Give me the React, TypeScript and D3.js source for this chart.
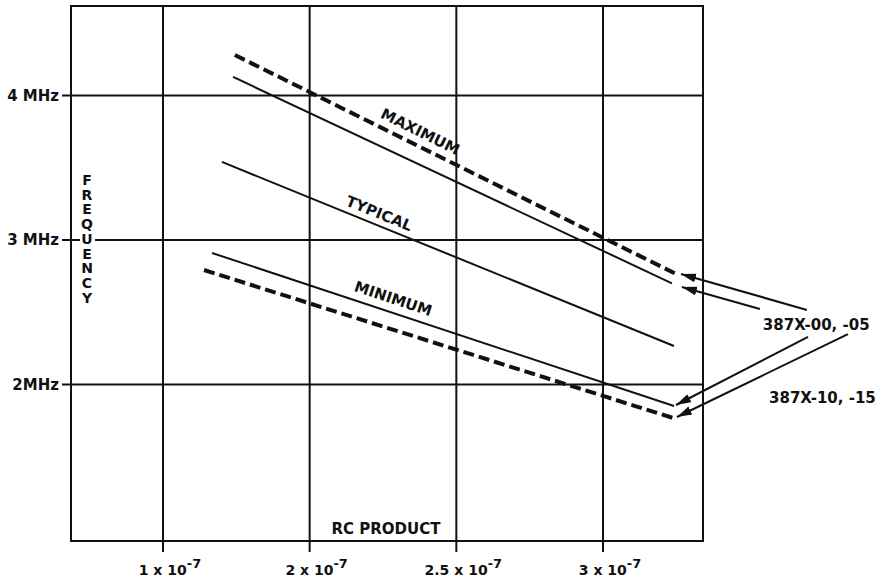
import * as d3 from "d3";

// x axis in units of 1e-7 (labels as printed on the original sheet)
const xTickValues = [1.5, 2, 2.5, 3];
const xTickLabels = ["1 x 10", "2 x 10", "2.5 x 10", "3 x 10"];
const yTickValues = [4, 3, 2];
const yTickLabels = ["4 MHz", "3 MHz", "2MHz"];

const seriesNames = ["maxDashed", "maxSolid", "typical", "minSolid", "minDashed"];
const seriesDashed = [true, false, false, false, true];
// [rc, MHz] endpoints
const seriesStart = [[1.745, 4.28], [1.739, 4.128], [1.701, 3.54], [1.667, 2.91], [1.64, 2.792]];
const seriesEnd = [[3.249, 2.765], [3.235, 2.7], [3.242, 2.266], [3.242, 1.851], [3.239, 1.768]];

const curveLabels = ["MAXIMUM", "TYPICAL", "MINIMUM"];
const curveLabelAt = [[2.376, 3.745], [2.236, 3.18], [2.284, 2.59]];
const curveLabelLine = [0, 2, 3];

const arrowFrom = [[3.695, 2.516], [3.535, 2.522], [3.699, 2.329], [3.835, 2.349]];
const arrowTo = [[3.266, 2.765], [3.269, 2.675], [3.249, 1.858], [3.252, 1.775]];
const partLabels = ["387X-00, -05", "387X-10, -15"];
const partLabelAt = [[3.545, 2.377], [3.566, 1.872]];

const W = 882;
const H = 581;
const left = 71, right = 703, top = 6, bottom = 541;
const FONT = "'DejaVu Sans', 'Liberation Sans', Arial, sans-serif";

export default function App() {
  const x = d3.scaleLinear().domain([1.1864, 3.3409]).range([left, right]);
  const y = d3.scaleLinear().domain([0.917, 4.619]).range([bottom, top]);
  const line = d3.line<number[]>().x((d) => x(d[0])).y((d) => y(d[1]));

  const angleOf = (i: number) => {
    const a = seriesStart[i], b = seriesEnd[i];
    return (Math.atan2(y(b[1]) - y(a[1]), x(b[0]) - x(a[0])) * 180) / Math.PI;
  };

  return (
    <svg
      width={W}
      height={H}
      style={{ position: "absolute", left: 0, top: 0, background: "#fff" }}
      fontFamily={FONT}
      fontWeight="bold"
    >
      <defs>
        <marker id="ah" markerUnits="userSpaceOnUse" markerWidth="16" markerHeight="10"
          refX="15" refY="4.5" orient="auto">
          <path d="M0,0 L15,4.5 L0,9 Z" fill="#111" />
        </marker>
      </defs>

      {/* grid */}
      {xTickValues.map((v) => (
        <line key={"gx" + v} x1={x(v)} x2={x(v)} y1={top} y2={bottom + 11} stroke="#111" strokeWidth={2} />
      ))}
      {yTickValues.map((v) => (
        <line key={"gy" + v} x1={left - 9} x2={right} y1={y(v)} y2={y(v)} stroke="#111" strokeWidth={2} />
      ))}
      <rect x={left} y={top} width={right - left} height={bottom - top} fill="none" stroke="#111" strokeWidth={2} />

      {/* y labels */}
      {yTickValues.map((v, i) => (
        <text key={"yl" + v} x={left - 12} y={y(v) + 5.5} textAnchor="end" fontSize={15} fill="#111">
          {yTickLabels[i]}
        </text>
      ))}
      {/* x labels */}
      {xTickValues.map((v, i) => (
        <text key={"xl" + v} x={x(v) + 7} y={575} textAnchor="middle" fontSize={14} fill="#111">
          {xTickLabels[i]}
          <tspan fontSize={13} dy={-7}>-7</tspan>
        </text>
      ))}

      <text x={386} y={534} textAnchor="middle" fontSize={15} fill="#111">RC PRODUCT</text>

      {/* vertical axis title, stacked letters */}
      <rect x={80} y={172} width={15} height={132} fill="#fff" />
      <text
        x={87}
        y={172}
        fontSize={14}
        fill="#111"
        letterSpacing={-1.3}
        style={{ writingMode: "vertical-rl", textOrientation: "upright" } as any}
      >
        FREQUENCY
      </text>

      {/* curves */}
      {seriesNames.map((n, i) => (
        <path
          key={n}
          d={line([seriesStart[i], seriesEnd[i]]) || ""}
          fill="none"
          stroke="#111"
          strokeWidth={seriesDashed[i] ? 4 : 2}
          strokeDasharray={seriesDashed[i] ? "11,5" : undefined}
        />
      ))}

      {curveLabels.map((t, i) => {
        const px = x(curveLabelAt[i][0]);
        const py = y(curveLabelAt[i][1]);
        return (
          <text
            key={t}
            x={px}
            y={py}
            textAnchor="middle"
            dominantBaseline="middle"
            fontSize={15}
            fill="#111"
            transform={`rotate(${angleOf(curveLabelLine[i])},${px},${py})`}
          >
            {t}
          </text>
        );
      })}

      {/* arrows */}
      {arrowFrom.map((a, i) => (
        <line
          key={"ar" + i}
          x1={x(a[0])}
          y1={y(a[1])}
          x2={x(arrowTo[i][0])}
          y2={y(arrowTo[i][1])}
          stroke="#111"
          strokeWidth={2}
          markerEnd="url(#ah)"
        />
      ))}
      {partLabels.map((t, i) => (
        <text key={t} x={x(partLabelAt[i][0])} y={y(partLabelAt[i][1])} fontSize={15} fill="#111">
          {t}
        </text>
      ))}
    </svg>
  );
}
